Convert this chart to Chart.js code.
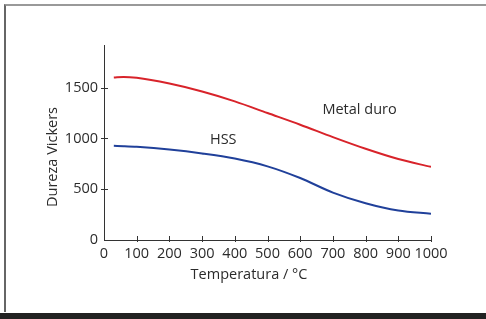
<!DOCTYPE html>
<html>
<head>
<meta charset="utf-8">
<script src="https://cdn.jsdelivr.net/npm/chart.js@4.4.1/dist/chart.umd.min.js"></script>
<style>
    html, body { margin: 0; padding: 0; background: #fff; }
    #wrap { position: relative; width: 486px; height: 319px; overflow: hidden; }
    #frame { position: absolute; left: 4px; top: 4px; width: 500px; height: 306px; border-top: 2px solid #999; border-left: 2px solid #666; }
    #bar { position: absolute; left: 0; top: 313px; width: 486px; height: 6px; background: #222; }
    canvas { position: absolute; left: 0; top: 0; }
</style>
</head>
<body>
<div id="wrap">
    <div id="frame"></div>
    <div id="bar"></div>
    <canvas id="hardnessChart" width="486" height="319"></canvas>
</div>
<script>
// Dados
const temperatures = [30, 60, 100, 200, 300, 400, 500, 600, 700, 800, 900, 1000];
const metalDuro = [1600, 1606, 1597, 1540, 1462, 1365, 1250, 1135, 1013, 898, 797, 720];
const hss = [928, 924, 917, 890, 852, 802, 725, 610, 467, 362, 290, 258];
const xTicks = [0, 100, 200, 300, 400, 500, 600, 700, 800, 900, 1000];
const yTicks = [0, 500, 1000, 1500];
const seriesLabels = [
    { text: 'Metal duro', x: 668, y: 1282 },
    { text: 'HSS', x: 324, y: 986 }
];

const FONT = '"Open Sans", sans-serif';
const FONT_SIZE = 14.5;
const TEXT_COLOR = '#2b2b2b';

function toPoints(ys) {
    return temperatures.map(function (t, i) { return { x: t, y: ys[i] }; });
}

// ticks que cruzam o eixo + títulos + rótulos das curvas
const decorations = {
    id: 'decorations',
    afterDraw: function (chart) {
        const ctx = chart.ctx;
        const xs = chart.scales.x;
        const ys = chart.scales.y;
        const area = chart.chartArea;
        ctx.save();
        ctx.strokeStyle = '#333';
        ctx.lineWidth = 1;
        ctx.beginPath();
        xTicks.forEach(function (v) {
            if (v === 0) return;
            const px = Math.round(xs.getPixelForValue(v)) + 0.5;
            ctx.moveTo(px, area.bottom - 4);
            ctx.lineTo(px, area.bottom + 2);
        });
        yTicks.forEach(function (v) {
            if (v === 0) return;
            const py = Math.round(ys.getPixelForValue(v)) + 0.5;
            ctx.moveTo(area.left - 3, py);
            ctx.lineTo(area.left + 4, py);
        });
        ctx.stroke();

        ctx.fillStyle = TEXT_COLOR;
        ctx.font = FONT_SIZE + 'px ' + FONT;
        ctx.textBaseline = 'middle';
        ctx.textAlign = 'center';
        ctx.fillText('Temperatura / °C', 249, 275);
        ctx.save();
        ctx.translate(53, 157);
        ctx.rotate(-Math.PI / 2);
        ctx.fillText('Dureza Vickers', 0, 0);
        ctx.restore();

        ctx.textAlign = 'left';
        seriesLabels.forEach(function (l) {
            ctx.fillText(l.text, xs.getPixelForValue(l.x), ys.getPixelForValue(l.y));
        });
        ctx.restore();
    }
};

const ctxHardness = document.getElementById('hardnessChart').getContext('2d');
const hardnessChart = new Chart(ctxHardness, {
    type: 'line',
    data: {
        datasets: [{
                label: 'Metal duro',
                data: toPoints(metalDuro),
                borderColor: '#d8232a',
                borderWidth: 2,
                pointRadius: 0,
                cubicInterpolationMode: 'monotone',
                fill: false
            }, {
                label: 'HSS',
                data: toPoints(hss),
                borderColor: '#20409a',
                borderWidth: 2,
                pointRadius: 0,
                cubicInterpolationMode: 'monotone',
                fill: false
            }]
    },
    options: {
        responsive: false,
        animation: false,
        layout: {
            padding: { left: 0, right: 55, top: 45, bottom: 0 }
        },
        plugins: {
            legend: { display: false },
            tooltip: { enabled: false }
        },
        scales: {
            x: {
                type: 'linear',
                min: 0,
                max: 1000,
                afterBuildTicks: function (axis) {
                    axis.ticks = xTicks.map(function (v) { return { value: v }; });
                },
                afterFit: function (axis) { axis.height = 79; },
                grid: { display: false, drawTicks: false, tickLength: 0 },
                border: { display: true, color: '#333', width: 1 },
                ticks: {
                    color: TEXT_COLOR,
                    font: { family: FONT, size: FONT_SIZE },
                    padding: 5,
                    maxRotation: 0,
                    autoSkip: false,
                    callback: function (v) { return String(v); }
                }
            },
            y: {
                min: 0,
                max: 1920,
                afterBuildTicks: function (axis) {
                    axis.ticks = yTicks.map(function (v) { return { value: v }; });
                },
                afterFit: function (axis) { axis.width = 104; },
                grid: { display: false, drawTicks: false, tickLength: 0 },
                border: { display: true, color: '#333', width: 1 },
                ticks: {
                    color: TEXT_COLOR,
                    font: { family: FONT, size: FONT_SIZE },
                    padding: 6,
                    callback: function (v) { return String(v); }
                }
            }
        }
    },
    plugins: [decorations]
});
</script>
</body>
</html>
